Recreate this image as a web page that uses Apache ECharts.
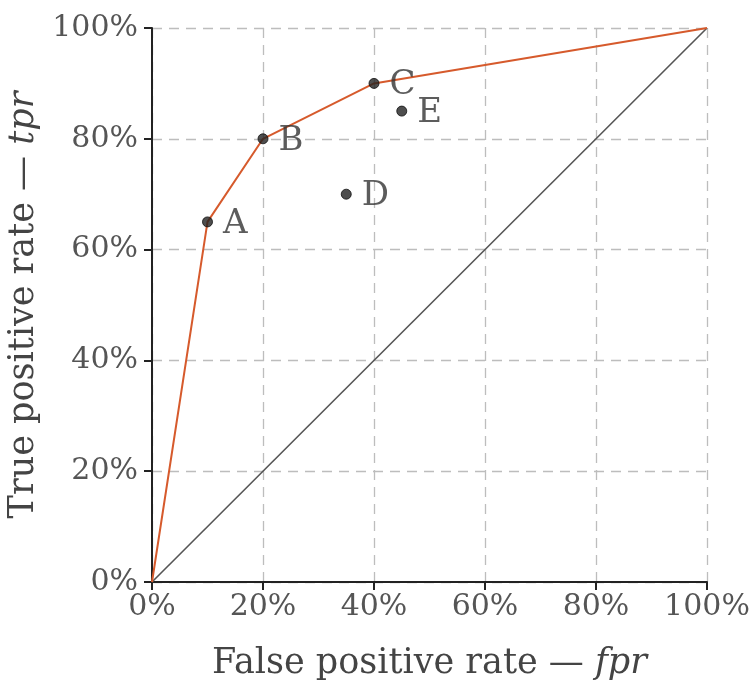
<!DOCTYPE html>
<html>
<head>
<meta charset="utf-8">
<script src="https://cdn.jsdelivr.net/npm/echarts@6/dist/echarts.min.js"></script>
<style>html,body{margin:0;padding:0;background:#fff;}#c{width:752px;height:691px;}</style>
</head>
<body>
<div id="c"></div>
<script>
const rocFpr = [0, 10, 20, 40, 100];
const rocTpr = [0, 65, 80, 90, 100];
const diagFpr = [0, 100];
const diagTpr = [0, 100];
const pointNames = ['A', 'B', 'C', 'D', 'E'];
const pointFpr = [10, 20, 40, 35, 45];
const pointTpr = [65, 80, 90, 70, 85];
const tickValues = [0, 20, 40, 60, 80, 100];

const FONT = '"DejaVu Serif", "Liberation Serif", serif';
const chart = echarts.init(document.getElementById('c'), null, {renderer: 'canvas'});

const axisCommon = {
  type: 'value', min: 0, max: 100, interval: 20,
  axisLine: {show: true, lineStyle: {color: '#222', width: 2}},
  axisTick: {show: true, length: 8, lineStyle: {color: '#222', width: 2}},
  splitLine: {show: true, lineStyle: {color: '#bdbdbd', width: 1.3, type: [10, 7]}},
  axisLabel: {formatter: '{value}%', color: '#555', fontFamily: FONT, fontSize: 30},
  nameLocation: 'middle',
  nameTextStyle: {color: '#444', fontFamily: FONT, fontSize: 35,
    rich: {i: {fontStyle: 'italic', color: '#444', fontFamily: FONT, fontSize: 35}}}
};

chart.setOption({
  animation: false,
  backgroundColor: '#fff',
  grid: {left: 152, right: 45, top: 28, bottom: 109, containLabel: false, outerBoundsMode: 'none'},
  xAxis: Object.assign({}, axisCommon, {
    name: 'False positive rate — {i|fpr}', nameGap: 64,
    axisLabel: Object.assign({}, axisCommon.axisLabel, {margin: 10})
  }),
  yAxis: Object.assign({}, axisCommon, {
    name: 'True positive rate — {i|tpr}', nameGap: 108,
    axisLabel: Object.assign({}, axisCommon.axisLabel, {margin: 14})
  }),
  series: [
    {
      type: 'line', data: diagFpr.map((x, i) => [x, diagTpr[i]]),
      symbol: 'none', lineStyle: {color: '#555', width: 1.6}, z: 2
    },
    {
      type: 'line', data: rocFpr.map((x, i) => [x, rocTpr[i]]),
      symbol: 'none', lineStyle: {color: '#d65a2c', width: 2}, z: 3
    },
    {
      type: 'scatter', data: pointNames.map((n, i) => ({name: n, value: [pointFpr[i], pointTpr[i]]})),
      symbol: 'circle', symbolSize: 10,
      itemStyle: {color: '#222', borderColor: '#111', borderWidth: 1},
      label: {show: true, position: 'right', distance: 10, formatter: '{b}',
        color: '#333', fontFamily: FONT, fontSize: 34, offset: [0, 2]},
      z: 4
    }
  ]
});
</script>
</body>
</html>
